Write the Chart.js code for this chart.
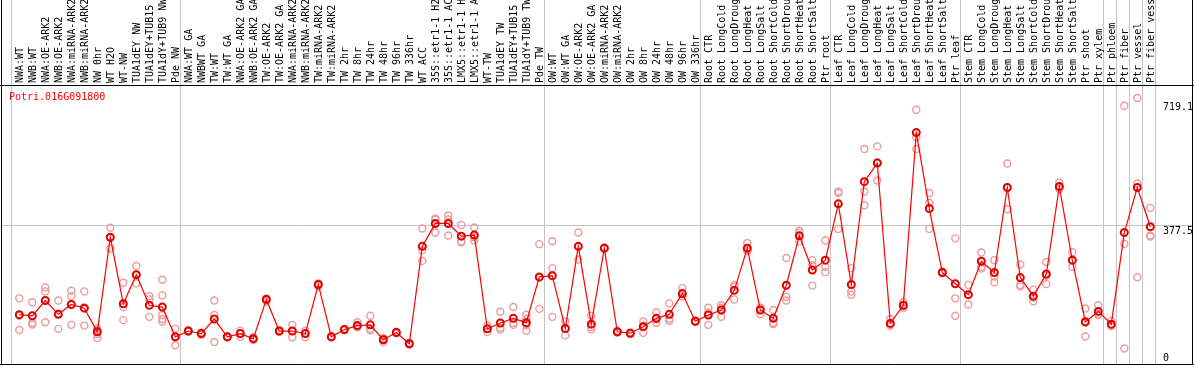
<!DOCTYPE html>
<html>
<head>
<meta charset="utf-8">
<script src="https://cdn.jsdelivr.net/npm/chart.js@4.4.1/dist/chart.umd.min.js"></script>
<style>
  html, body { margin: 0; padding: 0; background: #fff; }
  #wrap { width: 1194px; height: 370px; }
</style>
</head>
<body>
<div id="wrap"><canvas id="expr" width="1194" height="370"></canvas></div>
<script>
const geneId = "Potri.016G091800";

const categories = [
  "NWA:WT", "NWB:WT", "NWA:OE-ARK2", "NWB:OE-ARK2", "NWA:miRNA-ARK2", "NWB:miRNA-ARK2",
  "NW 0hr", "WT H2O", "WT-NW", "TUA1dEY NW", "TUA1dEY+TUB15 NW", "TUA1dY+TUB9 NW", "Pde NW",
  "NWA:WT GA", "NWBWT GA", "TW:WT", "TW:WT GA", "NWA:OE-ARK2 GA", "NWB:OE-ARK2 GA",
  "TW:OE-ARK2", "TW:OE-ARK2 GA", "NWA:miRNA-ARK2 GA", "NWB:miRNA-ARK2 GA", "TW:miRNA-ARK2",
  "TW:miRNA-ARK2 GA", "TW 2hr", "TW 8hr", "TW 24hr", "TW 48hr", "TW 96hr", "TW 336hr",
  "WT ACC", "35S::etr1-1 H2O", "35S::etr1-1 ACC", "LMX5::etr1-1 H2O", "LMX5::etr1-1 ACC",
  "WT-TW", "TUA1dEY TW", "TUA1dEY+TUB15 TW", "TUA1dY+TUB9 TW", "Pde TW",
  "OW:WT", "OW:WT GA", "OW:OE-ARK2", "OW:OE-ARK2 GA", "OW:miRNA-ARK2", "OW:miRNA-ARK2 GA",
  "OW 2hr", "OW 8hr", "OW 24hr", "OW 48hr", "OW 96hr", "OW 336hr",
  "Root CTR", "Root LongCold", "Root LongDrought", "Root LongHeat", "Root LongSalt",
  "Root ShortCold", "Root ShortDrought", "Root ShortHeat", "Root ShortSalt", "Ptr root",
  "Leaf CTR", "Leaf LongCold", "Leaf LongDrought", "Leaf LongHeat", "Leaf LongSalt",
  "Leaf ShortCold", "Leaf ShortDrought", "Leaf ShortHeat", "Leaf ShortSalt", "Ptr leaf",
  "Stem CTR", "Stem LongCold", "Stem LongDrought", "Stem LongHeat", "Stem LongSalt",
  "Stem ShortCold", "Stem ShortDrought", "Stem ShortHeat", "Stem ShortSalt", "Ptr shoot",
  "Ptr xylem", "Ptr phloem", "Ptr fiber", "Ptr vessel", "Ptr fiber vessel"
];

// first category of each block (last entry closes the final block)
const groupStarts = [0, 13, 41, 53, 63, 73, 84, 85, 86, 87, 88];

const meanValues = [
  133, 130, 172, 134, 161, 151, 86, 346, 163, 243, 159, 154, 72,
  88, 81, 121, 72, 81, 67, 175, 88, 88, 81, 216, 72, 92, 103, 105, 64, 84, 53,
  321, 384, 384, 349, 352, 94, 110, 123, 111, 237,
  240, 95, 321, 107, 316, 86, 82, 100, 123, 134, 191, 115,
  132, 146, 200, 316, 146, 123, 214, 350, 256, 283,
  438, 216, 499, 550, 109, 159, 634, 425, 249, 218,
  188, 280, 249, 483, 235, 184, 245, 486, 283, 113, 142,
  107, 359, 483, 375
];

const replicateValues = [
  [178, 130, 91], [167, 110, 106], [208, 197, 112], [172, 136, 94], [199, 184, 105],
  [197, 153, 103], [95, 90, 80, 69], [372, 346, 315], [221, 154, 118], [267, 243, 219],
  [184, 175, 127], [229, 186, 132, 121, 114], [94, 73, 49],
  [90, 88, 86], [84, 81, 78], [172, 132, 58], [74, 72, 70], [89, 82, 72], [71, 67, 63],
  [178, 175, 170], [90, 88, 86], [105, 88, 71], [89, 83, 71], [219, 216, 211], [74, 72, 70],
  [94, 92, 90], [112, 99, 98], [130, 95, 90], [69, 65, 58], [86, 84, 82], [55, 53, 51],
  [370, 310, 281], [398, 395, 359], [406, 395, 351], [380, 335, 332], [373, 346, 337],
  [103, 94, 85], [141, 97, 92], [154, 110, 105], [133, 121, 108, 104, 89], [327, 235, 149],
  [335, 261, 127], [114, 95, 76], [359, 321, 285], [130, 99, 92], [318, 316, 314],
  [88, 86, 84], [84, 82, 80], [114, 103, 83], [139, 120, 110], [164, 122, 116],
  [206, 184, 183], [117, 115, 113],
  [152, 139, 105], [159, 152, 127], [215, 210, 175], [330, 310, 308], [152, 152, 134],
  [146, 110, 107], [289, 182, 172], [364, 358, 335], [283, 269, 213], [337, 265, 250],
  [472, 468, 369], [261, 197, 188], [589, 472, 434], [596, 552, 502], [121, 103, 103],
  [168, 157, 152], [697, 621, 589], [468, 441, 369], [252, 250, 247], [343, 178, 130],
  [215, 188, 161], [304, 265, 260], [283, 238, 222], [549, 483, 423], [271, 215, 211],
  [202, 180, 170], [278, 240, 217], [497, 481, 479], [305, 283, 265], [150, 116, 73],
  [159, 135, 132],
  [116, 103, 102], [708, 328, 40], [729, 494, 236], [427, 350, 348]
];

const yTickValues = [0, 377.5, 719.1];
const yGridValues = [377.5];

const FONT = '10px "DejaVu Sans Mono", monospace';

const meanPoints = meanValues.map((v, i) => ({ x: i, y: v }));
const repPoints = [];
replicateValues.forEach((reps, i) => reps.forEach(v => repPoints.push({ x: i, y: v })));

// grid, frame and all the text
const framePlugin = {
  id: "frame",
  beforeDraw(chart) {
    const ctx = chart.ctx;
    ctx.save();
    ctx.fillStyle = "#fff";
    ctx.fillRect(0, 0, chart.width, chart.height);
    ctx.restore();
  },
  beforeDatasetsDraw(chart) {
    const { ctx, chartArea, scales: { x, y } } = chart;
    ctx.save();
    ctx.strokeStyle = "#c4c4c4";
    ctx.lineWidth = 1;
    groupStarts.forEach(k => {
      const px = Math.floor(x.getPixelForValue(k - 0.5) - 1.5) + 0.5;
      ctx.beginPath();
      ctx.moveTo(px, 0);
      ctx.lineTo(px, chartArea.bottom);
      ctx.stroke();
    });
    yGridValues.forEach(v => {
      const py = Math.floor(y.getPixelForValue(v)) + 0.5;
      ctx.beginPath();
      ctx.moveTo(2, py);
      ctx.lineTo(chart.width - 2, py);
      ctx.stroke();
    });
    ctx.restore();
  },
  afterDraw(chart) {
    const { ctx, chartArea, scales: { x, y } } = chart;
    ctx.save();

    // black frame
    ctx.strokeStyle = "#000";
    ctx.lineWidth = 1;
    ctx.beginPath();
    ctx.moveTo(1.5, 0); ctx.lineTo(1.5, chartArea.bottom + 0.5);
    ctx.moveTo(chart.width - 1.5, 0); ctx.lineTo(chart.width - 1.5, chartArea.bottom + 0.5);
    ctx.moveTo(0, Math.floor(chartArea.top) - 0.5); ctx.lineTo(chart.width, Math.floor(chartArea.top) - 0.5);
    ctx.moveTo(0, Math.floor(chartArea.bottom) + 0.5); ctx.lineTo(chart.width, Math.floor(chartArea.bottom) + 0.5);
    ctx.stroke();

    // rotated category names
    ctx.font = FONT;
    ctx.fillStyle = "#000";
    ctx.textAlign = "left";
    ctx.textBaseline = "alphabetic";
    categories.forEach((name, i) => {
      ctx.save();
      ctx.translate(x.getPixelForValue(i) + 3.5, chartArea.top - 3);
      ctx.rotate(-Math.PI / 2);
      ctx.fillText(name, 0, 0);
      ctx.restore();
    });

    // gene id
    ctx.fillStyle = "#ff0000";
    ctx.fillText(geneId, 9, chartArea.top + 14);

    // value labels on the right
    ctx.fillStyle = "#000";
    yTickValues.forEach(v => {
      const py = v === 0 ? chartArea.bottom - 3 : y.getPixelForValue(v) + 8;
      ctx.fillText(String(v), 1163, py);
    });
    ctx.restore();
  }
};

new Chart(document.getElementById("expr").getContext("2d"), {
  type: "line",
  data: {
    datasets: [
      {
        label: "mean",
        data: meanPoints,
        order: 0,
        clip: false,
        showLine: true,
        borderColor: "#ff0000",
        borderWidth: 1.2,
        pointRadius: 3.5,
        pointBorderWidth: 2,
        pointBorderColor: "#e00000",
        pointBackgroundColor: "rgba(0,0,0,0)",
        tension: 0
      },
      {
        label: "replicates",
        data: repPoints,
        order: 1,
        clip: false,
        showLine: false,
        pointRadius: 3.5,
        pointBorderWidth: 1.4,
        pointBorderColor: "#ec9a9a",
        pointBackgroundColor: "rgba(0,0,0,0)"
      }
    ]
  },
  options: {
    responsive: false,
    devicePixelRatio: 1,
    animation: false,
    events: [],
    layout: { padding: { left: 12.8, right: 37.2, top: 86, bottom: 1 } },
    scales: {
      x: { type: "linear", min: -0.5, max: categories.length - 0.5, display: false },
      y: { type: "linear", min: -2.7, max: 762.2, display: false }
    },
    plugins: {
      legend: { display: false },
      tooltip: { enabled: false }
    }
  },
  plugins: [framePlugin]
});
</script>
</body>
</html>
